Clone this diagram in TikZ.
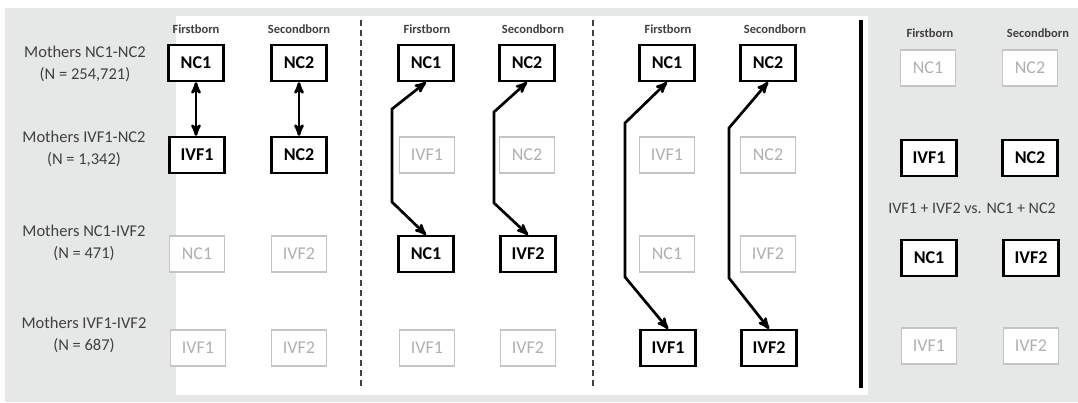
\documentclass[tikz,border=0pt]{standalone}
\usepackage{fontspec}
\setmainfont{Carlito}
\usetikzlibrary{arrows}

\definecolor{panelgray}{HTML}{E6E7E7}
\definecolor{labelgray}{HTML}{404040}
\definecolor{fadegray}{HTML}{C4C4C4}

\begin{document}
\begin{tikzpicture}[x=1pt,y=-1pt,<->,>=stealth',thick,
  box/.style={draw=black,line width=2.4pt,fill=white,minimum width=55pt,minimum height=36pt,inner sep=2pt,font=\fontsize{18}{18}\selectfont\bfseries},
  faint box/.style={draw=fadegray,line width=1.6pt,fill=white,minimum width=55pt,minimum height=36pt,inner sep=2pt,text=fadegray!90!black,font=\fontsize{18}{18}\selectfont},
  col label/.style={text=labelgray,font=\fontsize{12.5}{13}\selectfont\bfseries},
  row label/.style={text=labelgray,align=center,font=\fontsize{16.5}{22}\selectfont},
  link/.style={<->,line width=2.7pt,black}]

  \useasboundingbox (0,0) rectangle (1078,402);
  \fill[panelgray] (5,8) rectangle (1078,402);
  \fill[white] (176,16) rectangle (868,395);

  % row labels
  \node[row label] (m1) at (85,64) {Mothers NC1-NC2\\(N = 254,721)};
  \node[row label] (m2) at (84,149) {Mothers IVF1-NC2\\(N = 1,342)};
  \node[row label] (m3) at (84,243) {Mothers NC1-IVF2\\(N = 471)};
  \node[row label] (m4) at (84,335) {Mothers IVF1-IVF2\\(N = 687)};

  % separators
  \draw[-,labelgray,line width=1.6pt,dash pattern=on 6pt off 4pt] (361,20) -- (361,387);
  \draw[-,labelgray,line width=1.6pt,dash pattern=on 6pt off 4pt] (593,20) -- (593,387);
  \draw[-,black,line width=3.2pt] (861,20) -- (861,388);

  % panel 1
  \node[col label] (f1) at (196,29) {Firstborn};
  \node[col label] (s1) at (299,29) {Secondborn};
  \node[box] (a1) at (196,63) {NC1};
  \node[box] (b1) at (299,63) {NC2};
  \node[box] (a2) at (197,155) {IVF1};
  \node[box] (b2) at (299,155) {NC2};
  \node[faint box] (a3) at (197,254) {NC1};
  \node[faint box] (b3) at (299,254) {IVF2};
  \node[faint box] (a4) at (198,348) {IVF1};
  \node[faint box] (b4) at (299,348) {IVF2};

  \path[link]
    (a1.south) edge (a1.south |- a2.north)
    (b1.south) edge (b1.south |- b2.north);

  % panel 2
  \node[col label] (f2) at (427,29) {Firstborn};
  \node[col label] (s2) at (533,29) {Secondborn};
  \node[box] (c1) at (426,63) {NC1};
  \node[box] (d1) at (527,63) {NC2};
  \node[faint box] (c2) at (427,155) {IVF1};
  \node[faint box] (d2) at (527,155) {NC2};
  \node[box] (c3) at (426,254) {NC1};
  \node[box] (d3) at (528,254) {IVF2};
  \node[faint box] (c4) at (427,348) {IVF1};
  \node[faint box] (d4) at (528,348) {IVF2};

  \draw[link] (c1.south) -- (392,109) -- (392,202) -- (c3.north);
  \draw[link] (d1.south) -- (494,112) -- (494,203) -- (d3.north);

  % panel 3
  \node[col label] (f3) at (668,29) {Firstborn};
  \node[col label] (s3) at (775,29) {Secondborn};
  \node[box] (e1) at (667,63) {NC1};
  \node[box] (g1) at (768,63) {NC2};
  \node[faint box] (e2) at (667,155) {IVF1};
  \node[faint box] (g2) at (768,155) {NC2};
  \node[faint box] (e3) at (667,254) {NC1};
  \node[faint box] (g3) at (768,254) {IVF2};
  \node[box] (e4) at (668,348) {IVF1};
  \node[box] (g4) at (769,348) {IVF2};

  \draw[link] (e1.south) -- (625,123) -- (625,277) -- (e4.north);
  \draw[link] (g1.south) -- (729,128) -- (729,278) -- (g4.north);

  % panel 4
  \node[col label] (f4) at (930,33) {Firstborn};
  \node[col label] (s4) at (1038,33) {Secondborn};
  \node[faint box] (h1) at (928,68) {NC1};
  \node[faint box] (k1) at (1030,68) {NC2};
  \node[box] (h2) at (929,158) {IVF1};
  \node[box] (k2) at (1030,158) {NC2};
  \node[text=labelgray,font=\fontsize{16}{16}\selectfont] (vs) at (972,208) {IVF1 + IVF2 vs. NC1 + NC2};
  \node[box] (h3) at (929,258) {NC1};
  \node[box] (k3) at (1031,258) {IVF2};
  \node[faint box] (h4) at (929,346) {IVF1};
  \node[faint box] (k4) at (1031,346) {IVF2};
\end{tikzpicture}
\end{document}
